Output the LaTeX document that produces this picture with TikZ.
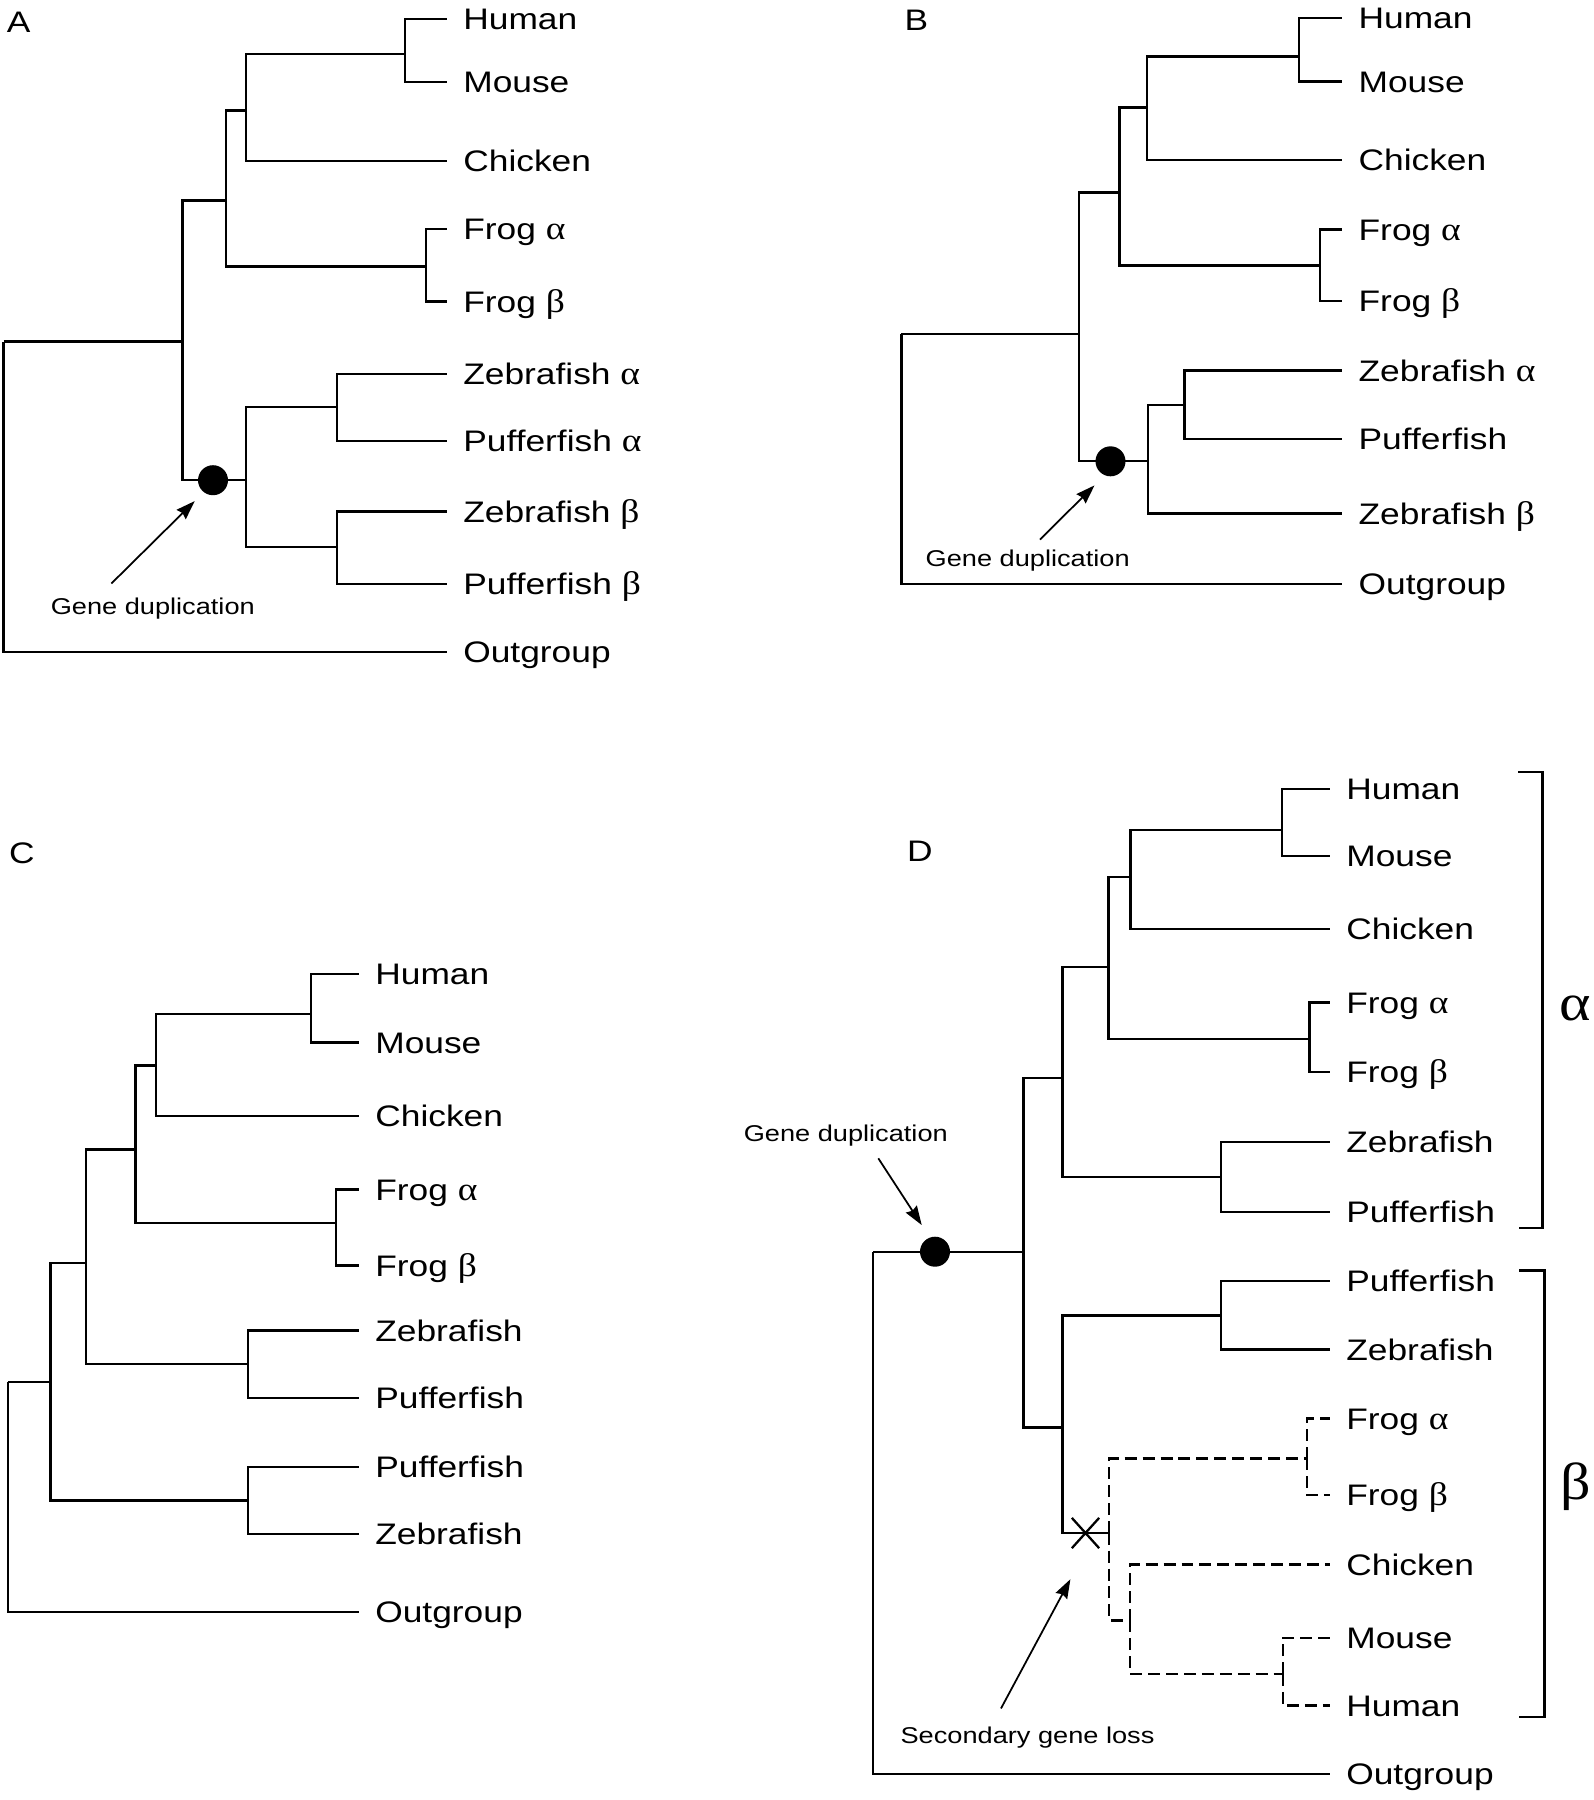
\documentclass[tikz,border=0pt]{standalone}
\usepackage{fontspec}
\setmainfont{Liberation Sans}[FakeStretch=1.19]
\newfontfamily\grk{Liberation Serif}[FakeStretch=1.15,Scale=1.1]
\usetikzlibrary{arrows.meta,shapes.misc}
\newcommand\lblfont{\fontsize{16.9}{20}\selectfont}
\newcommand\notefont{\fontsize{13}{16}\selectfont}
\newcommand\galpha{{\grk α}}
\newcommand\gbeta{{\grk β}}
\begin{document}
\begin{tikzpicture}[x=0.02cm,y=-0.02cm,
  br/.style={line width=1.3pt, line join=miter},
  dsh/.style={br, dash pattern=on 6.8pt off 3.4pt},
  lf/.style={anchor=west, inner xsep=0.32cm, inner ysep=0pt, font=\lblfont, text height=12.1pt, text depth=0pt},
  note/.style={font=\notefont, inner sep=0pt, text height=9.3pt, text depth=0pt},
  plabel/.style={font=\lblfont, inner sep=0pt, text height=12.1pt, text depth=0pt},
  dupdot/.style={circle, fill=black, inner sep=0pt, minimum size=0.6cm},
  arr/.style={line width=1pt, -{Stealth[length=0.38cm,width=0.26cm,inset=0.04cm]}},
  big/.style={font=\fontsize{27}{32}\selectfont\grk, inner sep=0pt},
  lossx/.style={cross out, draw, line width=1.3pt, inner sep=0pt, minimum width=0.5cm, minimum height=0.56cm}]
\useasboundingbox[fill=white] (0,0) rectangle (1594,1800);

% ---------------- Panel A ----------------
\node[plabel] (Alab) at (18.7,22.3) {A};
\node[lf] (A1) at (447,19) {Human};
\node[lf] (A2) at (447,82) {Mouse};
\node[lf] (A3) at (447,161.2) {Chicken};
\node[lf] (A4) at (447,229) {Frog \galpha};
\node[lf] (A5) at (447,301.5) {Frog \gbeta};
\node[lf] (A6) at (447,374) {Zebrafish \galpha};
\node[lf] (A7) at (447,441) {Pufferfish \galpha};
\node[lf] (A8) at (447,511.4) {Zebrafish \gbeta};
\node[lf] (A9) at (447,584) {Pufferfish \gbeta};
\node[lf] (A10) at (447,652) {Outgroup};
\coordinate (Ahm) at (405.3,54);
\coordinate (Ahmc) at (246.3,110.5);
\coordinate (Afr) at (426.3,266.4);
\coordinate (Atet) at (225.8,200.4);
\coordinate (Aing) at (182.6,341.6);
\coordinate (Afish) at (246.3,480.2);
\coordinate (Afa) at (337.2,407);
\coordinate (Afb) at (337.2,547);
\coordinate (Aroot) at (3.6,341.6);
\draw[br] (Ahm) |- (A1.west) (Ahm) |- (A2.west)
  (Ahmc) |- (Ahm) (Ahmc) |- (A3.west)
  (Afr) |- (A4.west) (Afr) |- (A5.west)
  (Atet) |- (Ahmc) (Atet) |- (Afr)
  (Aing) |- (Atet) (Aing) |- (Afish)
  (Afish) |- (Afa) (Afish) |- (Afb)
  (Afa) |- (A6.west) (Afa) |- (A7.west)
  (Afb) |- (A8.west) (Afb) |- (A9.west)
  (Aroot) -- (Aing) (Aroot) |- (A10.west);
\node[dupdot] (Adot) at (213,480.2) {};
\node[note] (Anote) at (152.8,606.7) {Gene duplication};
\coordinate (Aat) at (111.4,583.5);
\coordinate (Aah) at (194.7,501.1);
\draw[arr] (Aat) -- (Aah);

% ---------------- Panel B ----------------
\node[plabel] (Blab) at (916.4,19.8) {B};
\node[lf] (B1) at (1342.3,18) {Human};
\node[lf] (B2) at (1342.3,81.5) {Mouse};
\node[lf] (B3) at (1342.3,160) {Chicken};
\node[lf] (B4) at (1342.3,229.6) {Frog \galpha};
\node[lf] (B5) at (1342.3,301.2) {Frog \gbeta};
\node[lf] (B6) at (1342.3,370.4) {Zebrafish \galpha};
\node[lf] (B7) at (1342.3,439) {Pufferfish};
\node[lf] (B8) at (1342.3,513.5) {Zebrafish \gbeta};
\node[lf] (B9) at (1342.3,584) {Outgroup};
\coordinate (Bhm) at (1299,56.5);
\coordinate (Bhmc) at (1147.3,107.5);
\coordinate (Bfr) at (1320,265.5);
\coordinate (Btet) at (1119.5,192.5);
\coordinate (Bing) at (1079,334);
\coordinate (Bfish) at (1148,461.3);
\coordinate (Bfa) at (1184.5,405);
\coordinate (Broot) at (901.4,334);
\draw[br] (Bhm) |- (B1.west) (Bhm) |- (B2.west)
  (Bhmc) |- (Bhm) (Bhmc) |- (B3.west)
  (Bfr) |- (B4.west) (Bfr) |- (B5.west)
  (Btet) |- (Bhmc) (Btet) |- (Bfr)
  (Bing) |- (Btet) (Bing) |- (Bfish)
  (Bfish) |- (Bfa) (Bfish) |- (B8.west)
  (Bfa) |- (B6.west) (Bfa) |- (B7.west)
  (Broot) -- (Bing) (Broot) |- (B9.west);
\node[dupdot] (Bdot) at (1110.5,461.3) {};
\node[note] (Bnote) at (1027.7,558) {Gene duplication};
\coordinate (Bat) at (1040,539.5);
\coordinate (Bah) at (1094.5,485.4);
\draw[arr] (Bat) -- (Bah);

% ---------------- Panel C ----------------
\node[plabel] (Clab) at (21.8,852.7) {C};
\node[lf] (C1) at (359,974.3) {Human};
\node[lf] (C2) at (359,1042.4) {Mouse};
\node[lf] (C3) at (359,1115.8) {Chicken};
\node[lf] (C4) at (359,1189.5) {Frog \galpha};
\node[lf] (C5) at (359,1265.5) {Frog \gbeta};
\node[lf] (C6) at (359,1330.6) {Zebrafish};
\node[lf] (C7) at (359,1398) {Pufferfish};
\node[lf] (C8) at (359,1466.9) {Pufferfish};
\node[lf] (C9) at (359,1534) {Zebrafish};
\node[lf] (C10) at (359,1612.2) {Outgroup};
\coordinate (Chm) at (311.2,1013.7);
\coordinate (Chmc) at (155.8,1065.5);
\coordinate (Cfr) at (336.3,1222.8);
\coordinate (Ctet) at (135.6,1149.4);
\coordinate (Ctf) at (86.3,1263.1);
\coordinate (Cf1) at (248.2,1364.3);
\coordinate (Cing) at (50.4,1382);
\coordinate (Cf2) at (248.2,1500.5);
\coordinate (Croot) at (7.9,1382);
\draw[br] (Chm) |- (C1.west) (Chm) |- (C2.west)
  (Chmc) |- (Chm) (Chmc) |- (C3.west)
  (Cfr) |- (C4.west) (Cfr) |- (C5.west)
  (Ctet) |- (Chmc) (Ctet) |- (Cfr)
  (Ctf) |- (Ctet) (Ctf) |- (Cf1)
  (Cf1) |- (C6.west) (Cf1) |- (C7.west)
  (Cing) |- (Ctf) (Cing) |- (Cf2)
  (Cf2) |- (C8.west) (Cf2) |- (C9.west)
  (Croot) -- (Cing) (Croot) |- (C10.west);

% ---------------- Panel D ----------------
\node[plabel] (Dlab) at (920,851) {D};
\node[lf] (D1) at (1330,789.3) {Human};
\node[lf] (D2) at (1330,856) {Mouse};
\node[lf] (D3) at (1330,929) {Chicken};
\node[lf] (D4) at (1330,1002.5) {Frog \galpha};
\node[lf] (D5) at (1330,1072) {Frog \gbeta};
\node[lf] (D6) at (1330,1142) {Zebrafish};
\node[lf] (D7) at (1330,1212) {Pufferfish};
\node[lf] (D8) at (1330,1281.3) {Pufferfish};
\node[lf] (D9) at (1330,1349.5) {Zebrafish};
\node[lf] (D10) at (1330,1418.5) {Frog \galpha};
\node[lf] (D11) at (1330,1495) {Frog \gbeta};
\node[lf] (D12) at (1330,1564.5) {Chicken};
\node[lf] (D13) at (1330,1638) {Mouse};
\node[lf] (D14) at (1330,1705.5) {Human};
\node[lf] (D15) at (1330,1774) {Outgroup};
\coordinate (Dhm) at (1282,830);
\coordinate (Dhmc) at (1130.6,876.7);
\coordinate (Dfr) at (1309.4,1039);
\coordinate (Dtet) at (1108.5,966.7);
\coordinate (Dfa) at (1221,1177);
\coordinate (Da) at (1062.4,1077.7);
\coordinate (Dmain) at (1023.5,1251.7);
\coordinate (Db) at (1062.4,1427.4);
\coordinate (Dfb) at (1221,1315.5);
\coordinate (Dloss) at (1109.3,1532.7);
\coordinate (Dfr2) at (1306.7,1458.5);
\coordinate (Dbm) at (1130,1620.5);
\coordinate (Dmm) at (1282.7,1674);
\coordinate (Droot) at (873.3,1251.7);
\draw[br] (Dhm) |- (D1.west) (Dhm) |- (D2.west)
  (Dhmc) |- (Dhm) (Dhmc) |- (D3.west)
  (Dfr) |- (D4.west) (Dfr) |- (D5.west)
  (Dtet) |- (Dhmc) (Dtet) |- (Dfr)
  (Dfa) |- (D6.west) (Dfa) |- (D7.west)
  (Da) |- (Dtet) (Da) |- (Dfa)
  (Dmain) |- (Da) (Dmain) |- (Db)
  (Db) |- (Dfb) (Db) |- (Dloss)
  (Dfb) |- (D8.west) (Dfb) |- (D9.west)
  (Droot) -- (Dmain) (Droot) |- (D15.west);
\draw[dsh] (Dloss) |- (Dfr2) (Dloss) |- (Dbm)
  (Dfr2) |- (D10.west) (Dfr2) |- (D11.west)
  (Dbm) |- (D12.west) (Dbm) |- (Dmm)
  (Dmm) |- (D13.west) (Dmm) |- (D14.west);
\node[dupdot] (Ddot) at (935,1251.7) {};
\node[lossx] (Dx) at (1085.5,1533) {};
\node[note] (Dnote) at (845.8,1133.3) {Gene duplication};
\coordinate (Dat) at (878.3,1158.3);
\coordinate (Dah) at (921.7,1225);
\draw[arr] (Dat) -- (Dah);
\node[note] (Dnote2) at (1027.5,1735) {Secondary gene loss};
\coordinate (Dlt) at (1001,1708.4);
\coordinate (Dlh) at (1070.4,1579.2);
\draw[arr] (Dlt) -- (Dlh);
% brackets
\coordinate (Dal1) at (1518,771.7);
\coordinate (Dal2) at (1519,1228.3);
\draw[br] (Dal1) -- ++(24.5,0) |- (Dal2);
\coordinate (Dbl1) at (1519,1270.5);
\coordinate (Dbl2) at (1519,1717);
\draw[br] (Dbl1) -- ++(25.5,0) |- (Dbl2);
\node[big] (Dalpha) at (1575,1008) {α};
\node[big] (Dbeta) at (1576,1487) {β};
\end{tikzpicture}
\end{document}
